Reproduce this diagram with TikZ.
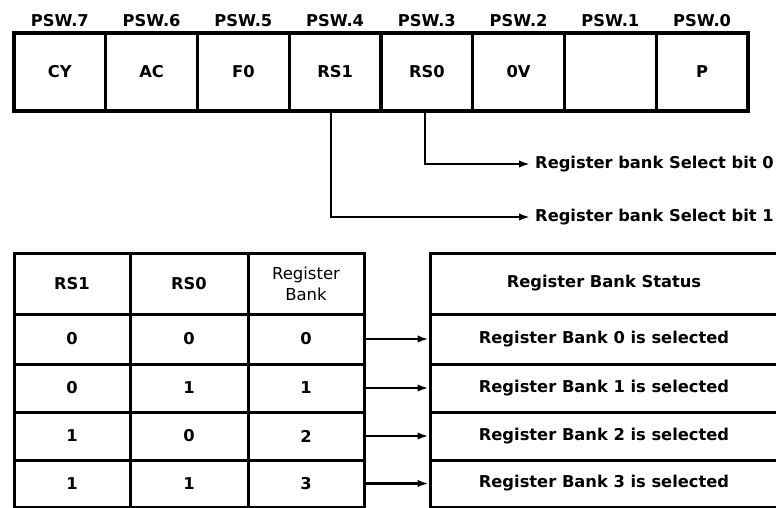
\documentclass[tikz,border=0pt]{standalone}
\usepackage{fontspec}
\setmainfont{DejaVu Sans}
\usetikzlibrary{arrows.meta}
\begin{document}
\begin{tikzpicture}[x=1pt,y=-1pt,
  txt/.style={font=\fontsize{16.3}{19}\selectfont\bfseries, inner sep=0pt},
  regcell/.style={txt, draw, line width=3.2pt, minimum width=91.75pt, minimum height=78pt},
  tcell/.style={txt, draw, line width=3pt},
  conn/.style={line width=2.2pt, -{Latex[length=11pt,width=7.5pt]}}]
\clip (0,0) rectangle (776,508);
\fill[white] (0,0) rectangle (776,508);

% PSW register: eight bit cells with their bit names above
\foreach \n/\t [count=\i from 0] in {7/CY,6/AC,5/F0,4/RS1,3/RS0,2/0V,1/,0/P} {
  \node[regcell] (c\n) at ({14+91.75*(\i+0.5)},72) {\t};
  \node[txt] (p\n) at ({14+91.75*(\i+0.5)},20.5) {PSW.\n};
}

% meaning of the two bank select bits
\node[txt, anchor=west, inner xsep=5pt] (bit0) at (530,164) {Register bank Select bit 0};
\node[txt, anchor=west, inner xsep=5pt] (bit1) at (530,217) {Register bank Select bit 1};
\draw[conn] ([xshift=-2pt]c3.south) |- (bit0.west);
\draw[conn] ([xshift=-4pt]c4.south) |- (bit1.west);

% selection table: header row
\node[tcell, minimum width=116pt, minimum height=61pt] (h1) at (72,283.5) {RS1};
\node[tcell, minimum width=118pt, minimum height=61pt] (h0) at (189,283.5) {RS0};
\node[tcell, minimum width=116pt, minimum height=61pt, align=center,
      font=\fontsize{16.5}{21}\selectfont] (hb) at (306,283.5) {Register\\Bank};
\node[tcell, minimum width=348pt, minimum height=61pt] (hs) at (604,283.5) {Register Bank Status};

% selection table: one row per bank, with the resulting status
\foreach \r/\y/\h/\a/\b in {0/339/50/0/0, 1/388/48/0/1, 2/436/48/1/0, 3/483.5/47/1/1} {
  \node[tcell, minimum width=116pt, minimum height=\h pt] (a\r) at (72,\y) {\a};
  \node[tcell, minimum width=118pt, minimum height=\h pt] (b\r) at (189,\y) {\b};
  \node[tcell, minimum width=116pt, minimum height=\h pt] (k\r) at (306,\y) {\r};
  \node[tcell, minimum width=348pt, minimum height=\h pt] (s\r) at (604,\y) {Register Bank \r\ is selected};
  \draw[conn] (k\r.east) -- (s\r.west);
}
\end{tikzpicture}
\end{document}
